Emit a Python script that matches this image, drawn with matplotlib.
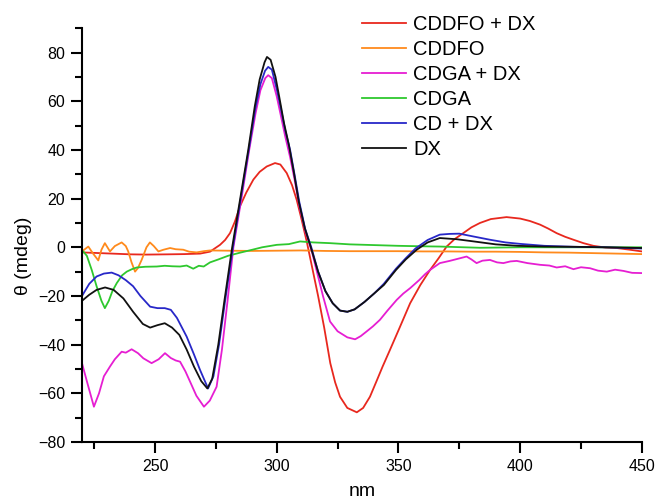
import matplotlib
matplotlib.use('Agg')
import matplotlib.pyplot as plt
from matplotlib.ticker import MultipleLocator

plt.rcParams['font.family'] = ['Liberation Sans', 'DejaVu Sans']

# CDDFO + DX
red_x = [220, 230, 240, 246.5, 255, 262, 268.5, 272.6, 274.5, 276.7, 278.8, 280.8, 282.8, 284.9,
         287.5, 290.4, 293, 295.9, 299.3, 301.5, 304.1, 306.3, 308.2, 310.2, 312.3, 314.5, 317,
         319.5, 322, 324, 326, 329, 332.9, 335.5, 338.3, 341, 343.5, 346.5, 350.5, 354.8, 359,
         363, 366.5, 369.8, 373, 376.6, 380, 383.5, 388, 394.4, 400, 404, 408.2, 411.5, 415,
         418.5, 421.9, 426, 430.1, 435, 439.7, 445, 450]
red_y = [-2.1, -2.5, -2.9, -3, -2.9, -2.8, -2.6, -1.8, -0.5, 1, 3, 5.8, 10.5, 16.8,
         22.5, 27.8, 31, 33.2, 34.6, 34, 30.5, 25.5, 19.5, 11.5, 2.5, -8, -20,
         -33, -47.6, -55.5, -61.4, -66, -67.8, -66, -61.4, -55, -49, -42.2, -33, -23, -15.5,
         -9.3, -4.5, 0.3, 3.3, 5.8, 8.2, 10, 11.6, 12.4, 11.8, 10.8, 9.3, 7.7, 5.8,
         4.3, 3.1, 1.7, 0.6, -0.1, -0.3, -1, -1.7]

# CDDFO
orange_x = [220, 222.6, 224.5, 226.7, 228, 229.4, 231.5, 233.5, 236.3, 238, 239, 240.3, 241.8,
            243, 244.5, 246.5, 247.9, 249.5, 251.4, 253.5, 256.2, 258.5, 261.6, 264, 267.1, 270,
            272.6, 280, 290, 300, 310, 320, 330, 340, 350, 360, 370, 380, 390, 400, 410, 420,
            430, 440, 450]
orange_y = [-1.7, 0.3, -2.5, -5.4, -1, 1.7, -1.7, 0.5, 2, 0.5, -1.7, -6, -10,
            -8.5, -5.2, 0, 2, 0.5, -1.7, -1, -0.3, -0.8, -1, -1.8, -2.1, -1.6,
            -1.3, -1.4, -1.5, -1.4, -1.3, -1.5, -1.6, -1.6, -1.6, -1.7, -1.7, -1.8, -1.8, -1.9,
            -2.1, -2.2, -2.4, -2.6, -2.8]

# CDGA + DX
magenta_x = [220, 222, 224.9, 227, 229, 231.5, 233.5, 236.3, 238, 240.4, 243, 245.2, 248.6,
             251.5, 254.1, 256.5, 258.5, 260.3, 262.5, 264.4, 267, 270.1, 272.5, 275.3, 277.5,
             279.8, 282.2, 285.5, 288.7, 291.3, 293.3, 295.3, 296.5, 298, 300, 301.5, 303.5,
             305.5, 307.3, 309.3, 311.8, 314.5, 316.5, 319, 321.9, 325, 329, 332.2, 334.5,
             336.9, 339.5, 342.4, 345.5, 349.3, 352, 354.8, 358.5, 361, 363, 367, 371, 375.3,
             378, 380, 382.1, 384.5, 387.6, 390.5, 393.1, 396, 398.6, 403, 408.2, 412, 415,
             418.5, 421.9, 425, 428.7, 432, 435.6, 439, 442.4, 446, 450]
magenta_y = [-47.6, -55, -65.5, -60, -53, -49, -46, -42.9, -43.3, -41.9, -43.5, -45.6, -47.6,
             -46, -43.5, -45.5, -46.5, -47, -51, -55.2, -61, -65.5, -63, -57.3, -42,
             -22, 0, 20, 40, 55, 64.5, 69.5, 70.7, 69.5, 62, 55, 45.5,
             37, 28, 17, 6.5, -2, -10, -20, -30.5, -34.5, -37, -37.8, -36.5,
             -34.6, -32.5, -29.8, -26, -21.6, -19, -16.8, -13.5, -11, -9.3, -6.5, -5.6, -4.5,
             -3.8, -5, -6.5, -5.5, -5.2, -6.2, -6.5, -5.8, -5.6, -6.5, -7.2, -7.5, -8.3,
             -7.8, -9, -8.2, -8.6, -9.6, -10, -9.2, -9.7, -10.5, -10.6]

# CDGA
green_x = [220, 220.5, 222, 224, 226, 228, 229.4, 231, 232.5, 234.3, 236.5, 238.4, 240.5, 242.5,
           246, 250.7, 254, 257, 260.3, 263, 265.7, 268, 270, 272.6, 276, 280, 285, 290, 294,
           300, 305, 309.6, 315, 321.9, 330, 340, 350, 360, 367, 383.5, 400, 420, 435, 450]
green_y = [-2, -1.7, -3.5, -9.3, -16, -22, -25, -22, -18, -14.7, -11.5, -10, -9, -8.3,
           -8, -7.9, -7.6, -7.8, -7.9, -7.5, -8.8, -7.6, -7.9, -6.2, -5, -3.5, -2.2, -1, 0,
           1, 1.3, 2.4, 2, 1.7, 1.2, 0.9, 0.6, 0.4, 0.3, -0.2, 0, 0, 0, 0]

# CD + DX
blue_x = [220, 223, 226, 229, 232.2, 235, 238, 241, 244, 248, 251, 254, 256.5, 259, 263, 266,
          268.5, 271.8, 274, 276.3, 278.8, 282, 285.2, 288.5, 291.2, 293.3, 295.2, 296.5, 298,
          300, 301.5, 303.5, 305.5, 307.3, 309.3, 311.7, 314.2, 317, 320, 323, 326, 329, 332,
          336, 340, 344, 349, 353, 357, 362, 367, 371, 375, 381, 387.6, 394, 400, 410, 422,
          435, 450]
blue_y = [-20, -15, -12, -10.8, -10.4, -11.5, -13.5, -16, -20, -24.4, -25, -25, -25.7, -29,
          -36.7, -44, -50.4, -58, -53, -40, -22, 0, 20, 40, 57, 67, 72.5, 74.1, 73,
          65, 58, 48, 40, 30, 18.5, 7.5, 0, -10, -18, -23, -26, -26.5, -25.5,
          -22.5, -19, -15, -8.8, -4.5, -0.5, 3, 5.2, 5.5, 5.6, 4.4, 3.1, 2, 1.4, 0.6, 0.2,
          0, -0.5]

# DX
black_x = [220, 223, 226, 229.5, 233, 237, 241, 245, 248, 251, 254, 257, 260, 263, 266, 269,
           271.5, 273.5, 276, 278.5, 281.7, 285, 288.3, 291, 293, 295, 296, 297.5, 299.5, 301,
           303, 305, 307, 309, 311.5, 314, 317, 320, 323, 326, 329, 332, 336, 340, 344, 349,
           353, 357.5, 362, 367, 374, 381, 390, 399, 410, 422, 435, 450]
black_y = [-22, -19.5, -17.5, -16.5, -17.5, -21, -26.5, -31.5, -33, -32, -31.2, -33, -36, -42,
           -49, -55, -58, -54, -40, -22, 0, 20, 40, 58, 69, 76, 78.2, 77, 70, 62,
           51, 42, 31, 19, 8, 0, -10, -18, -23, -26, -26.5, -25.5, -22.5, -19, -15.5, -9.3,
           -5, -1, 2, 3.8, 3.3, 2.4, 1.2, 0.6, 0.3, 0.2, 0, -0.3]

series = [
    ('CDDFO + DX', red_x, red_y, '#e8281e'),
    ('CDDFO', orange_x, orange_y, '#ff8a1c'),
    ('CDGA + DX', magenta_x, magenta_y, '#e61ed2'),
    ('CDGA', green_x, green_y, '#2ec82e'),
    ('CD + DX', blue_x, blue_y, '#2828c8'),
    ('DX', black_x, black_y, '#111111'),
]

fig = plt.figure(figsize=(6.59, 5.04), dpi=100)
ax = fig.add_axes([0.1244, 0.123, 0.8496, 0.821])

for label, xs, ys, color in series:
    ax.plot(xs, ys, color=color, lw=1.3, label=label)

ax.set_xlim(220, 450)
ax.set_ylim(-80, 90)
ax.xaxis.set_major_locator(MultipleLocator(50))
ax.xaxis.set_minor_locator(MultipleLocator(25))
ax.yaxis.set_major_locator(MultipleLocator(20))
ax.yaxis.set_minor_locator(MultipleLocator(10))
ax.spines['top'].set_visible(False)
ax.spines['right'].set_visible(False)
for s in ('left', 'bottom'):
    ax.spines[s].set_linewidth(1.5)
ax.tick_params(which='major', direction='out', length=8, width=1.5, labelsize=11.5, pad=4)
ax.tick_params(which='minor', direction='out', length=5, width=1.5)

ax.set_xlabel('nm', fontsize=14)
ax.xaxis.set_label_coords(0.5, -0.1)
ax.set_ylabel('\u03b8 (mdeg)', fontsize=14)
ax.yaxis.set_label_coords(-0.09, 0.45)

fig.legend(loc='upper left', bbox_to_anchor=(362 / 659, 1 - 15 / 504), frameon=False,
           fontsize=14.5, handlelength=2.2, handletextpad=0.35, labelspacing=0.3,
           borderpad=0, borderaxespad=0)

fig.savefig('out.png', dpi=100)
